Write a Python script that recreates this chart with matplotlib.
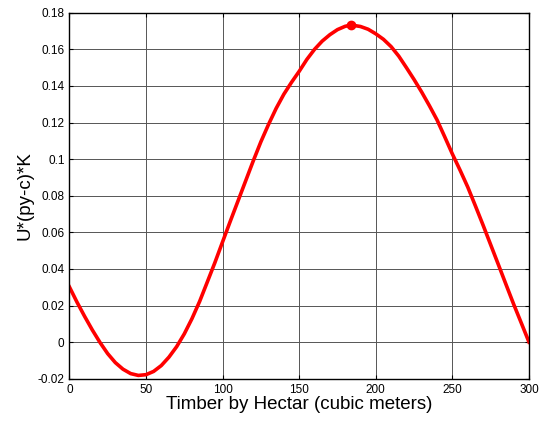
import numpy as np
import matplotlib
matplotlib.use('Agg')
import matplotlib.pyplot as plt

plt.rcParams['font.family'] = ['Liberation Sans', 'DejaVu Sans']

# values (every 5 units of timber)
timber = [0, 5, 10, 15, 20, 25, 30, 35, 40, 45, 50, 55, 60, 65, 70, 75, 80, 85, 90, 95,
          100, 105, 110, 115, 120, 125, 130, 135, 140, 145, 150, 155, 160, 165, 170, 175,
          180, 184, 190, 195, 200, 205, 210, 215, 220, 225, 230, 235, 240, 245, 250, 255,
          260, 265, 270, 275, 280, 285, 290, 295, 300]
value = [0.0302, 0.0218, 0.0140, 0.0066, -0.0002, -0.0063, -0.0112, -0.0148, -0.0172,
         -0.0182, -0.0178, -0.0160, -0.0128, -0.0082, -0.0025, 0.0045, 0.0128, 0.0222,
         0.0328, 0.0435, 0.0548, 0.0660, 0.0770, 0.0880, 0.0990, 0.1095, 0.1190, 0.1278,
         0.1355, 0.1420, 0.1480, 0.1545, 0.1600, 0.1645, 0.1680, 0.1708, 0.1726, 0.1733,
         0.1725, 0.1710, 0.1685, 0.1655, 0.1615, 0.1563, 0.1500, 0.1435, 0.1366, 0.1292,
         0.1214, 0.1122, 0.1028, 0.0940, 0.0848, 0.0745, 0.0640, 0.0532, 0.0424, 0.0315,
         0.0207, 0.0104, 0.0]
best_x = 184
best_y = 0.1733

xticks = [0, 50, 100, 150, 200, 250, 300]
yticks = [-0.02, 0, 0.02, 0.04, 0.06, 0.08, 0.1, 0.12, 0.14, 0.16, 0.18]
ytick_labels = ['-0.02', '0', '0.02', '0.04', '0.06', '0.08', '0.1', '0.12', '0.14', '0.16', '0.18']

fig = plt.figure(figsize=(5.42, 4.26), dpi=100)
ax = fig.add_axes([0.128, 0.111, 0.848, 0.859])

ax.plot(timber, value, color='red', linewidth=2.6, solid_joinstyle='round')
ax.plot(best_x, best_y, 'o', color='red', markersize=6)

ax.set_xlim(0, 300)
ax.set_ylim(-0.02, 0.18)
ax.set_xticks(xticks)
ax.set_xticklabels([str(t) for t in xticks])
ax.set_yticks(yticks)
ax.set_yticklabels(ytick_labels)
ax.grid(True, color='#555555', linewidth=0.7)
ax.set_axisbelow(True)
ax.tick_params(direction='in', top=True, right=True, length=3, labelsize=8.5, width=0.8)
for s in ax.spines.values():
    s.set_linewidth(1.0)

ax.set_xlabel('Timber by Hectar (cubic meters)', fontsize=13.5, labelpad=0)
ax.set_ylabel('U*(py-c)*K', fontsize=13.5, labelpad=3)

fig.savefig('out.png', dpi=100)
